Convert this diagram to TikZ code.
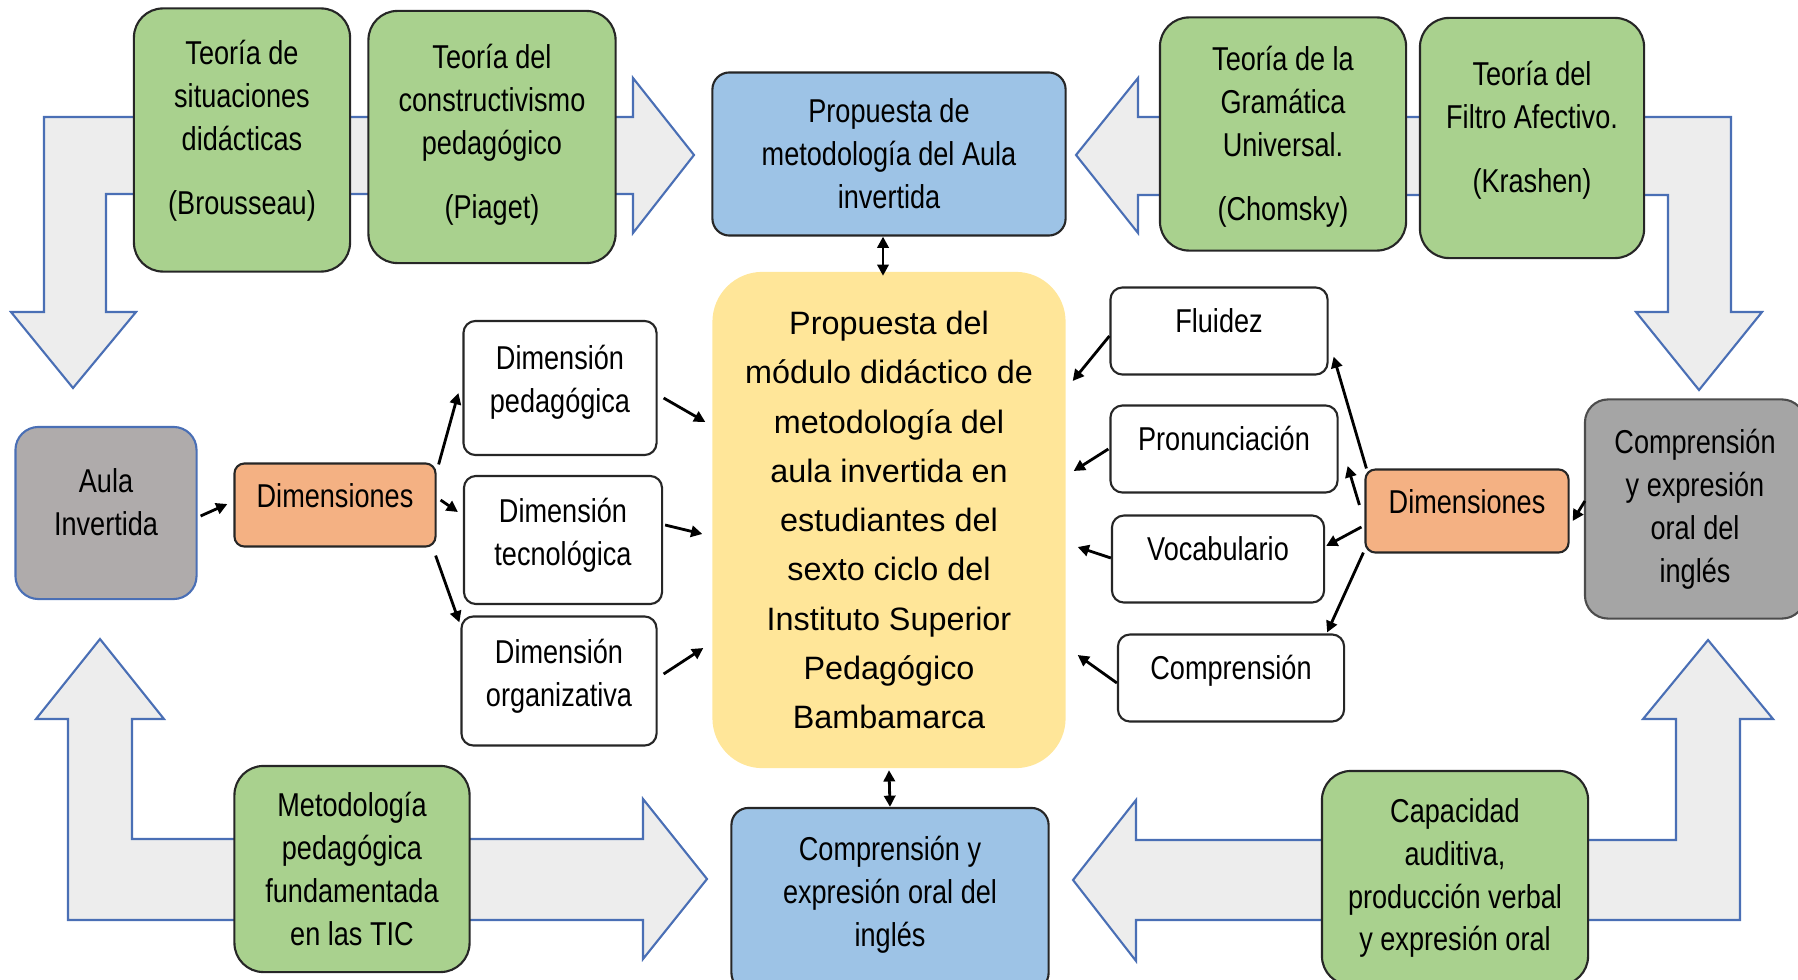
\documentclass[tikz,border=0pt]{standalone}
\usepackage{fontspec}
\setmainfont{Liberation Sans}
\newfontfamily\narrowfont[FakeStretch=0.82]{Liberation Sans}
\usetikzlibrary{calc,arrows.meta}
\definecolor{verde}{HTML}{A9D18E}
\definecolor{azul}{HTML}{9DC3E6}
\definecolor{amarillo}{HTML}{FFE699}
\definecolor{naranja}{HTML}{F4B183}
\definecolor{grisA}{HTML}{AFABAB}
\definecolor{grisB}{HTML}{A5A5A5}
\definecolor{relleno}{HTML}{EDEDED}
\definecolor{borde}{HTML}{4A6FB5}

\begin{document}
\begin{tikzpicture}[x=0.01cm, y=-0.01cm, >={Triangle[length=3.2pt,width=3.2pt]}, line join=round,
		font=\narrowfont\fontsize{9.4}{12.2}\selectfont,
		caja/.style={draw=black!85, line width=0.6pt, align=center, inner sep=0pt},
		teoria/.style={caja, fill=verde, rounded corners=0.29cm},
		propuesta/.style={caja, fill=azul, rounded corners=0.17cm},
		dimension/.style={caja, fill=white, rounded corners=0.12cm},
		rasgo/.style={dimension, minimum height=0.87cm, text height=0.25cm, text depth=0.23cm},
		dims/.style={caja, fill=naranja, rounded corners=0.1cm, minimum height=0.83cm, text height=0.25cm, text depth=0.2cm},
		flechota/.style={fill=relleno, draw=borde, line width=0.6pt, line join=miter},
		con/.style={->, line width=0.8pt}]
	\useasboundingbox (0,0) rectangle (1798,979);
	
	% flechas grandes
	\draw[flechota] (633,117) -- (633,78) -- (694,155) -- (633,233) -- (633,194) -- (106,194) -- (106,312) -- (136,312) -- (73,388) -- (11,312) -- (44,312) -- (44,117) -- cycle;
	\draw[flechota] (1138,117) -- (1731,117) -- (1731,312) -- (1762,312) -- (1699,390) -- (1636,312) -- (1668,312) -- (1668,195) -- (1138,195) -- (1138,233) -- (1076,155) -- (1138,78) -- cycle;
	\draw[flechota] (643,839) -- (643,799) -- (707,879) -- (643,959) -- (643,920) -- (68,920) -- (68,719) -- (36,719) -- (100,639) -- (164,719) -- (132,719) -- (132,839) -- cycle;
	\draw[flechota] (1136,840) -- (1676,840) -- (1676,719) -- (1643,719) -- (1708,640) -- (1773,719) -- (1740,719) -- (1740,920) -- (1136,920) -- (1136,961) -- (1073,880) -- (1136,800) -- cycle;
	
	% teorias
	\node[teoria, minimum width=2.16cm, minimum height=2.63cm, text depth=0.25cm] (brou) at (242,140) {Teoría de\\situaciones\\didácticas\\[6pt](Brousseau)};
	\node[teoria, minimum width=2.47cm, minimum height=2.52cm, text depth=0.12cm] (piag) at (492,137) {Teoría del\\constructivismo\\pedagógico\\[6pt](Piaget)};
	\node[teoria, minimum width=2.46cm, minimum height=2.33cm, text depth=0.01cm] (chom) at (1283,134) {Teoría de la\\Gramática\\Universal.\\[6pt](Chomsky)};
	\node[teoria, minimum width=2.24cm, minimum height=2.40cm, text depth=0.23cm] (kras) at (1532,138) {Teoría del\\Filtro Afectivo.\\[6pt](Krashen)};
	\node[teoria, minimum width=2.35cm, minimum height=2.06cm] (metod) at (352,869) {Metodología\\pedagógica\\fundamentada\\en las TIC};
	\node[teoria, minimum width=2.66cm, minimum height=2.14cm] (capac) at (1455,878) {Capacidad\\auditiva,\\producción verbal\\y expresión oral};
	
	% propuestas
	\node[propuesta, minimum width=3.53cm, minimum height=1.63cm] (propT) at (889,154) {Propuesta de\\metodología del Aula\\invertida};
	\node[propuesta, minimum width=3.17cm, minimum height=1.82cm, text depth=0.15cm] (comB) at (890,899) {Comprensión y\\expresión oral del\\inglés};
	\node[caja, draw=none, fill=amarillo, rounded corners=0.5cm, minimum width=3.53cm, minimum height=4.96cm,
		font=\rmfamily\fontsize{9.2}{14}\selectfont] (yel) at (889,520)
		{Propuesta del\\módulo didáctico de\\metodología del\\aula invertida en\\estudiantes del\\sexto ciclo del\\Instituto Superior\\Pedagógico\\Bambamarca};
	
	% variables
	\node[caja, draw=borde, fill=grisA, rounded corners=0.23cm, minimum width=1.81cm, minimum height=1.72cm, text depth=0.22cm] (aula) at (106,513) {Aula\\Invertida};
	\node[caja, draw=black!70, fill=grisB, rounded corners=0.23cm, minimum width=2.20cm, minimum height=2.19cm] (compR) at (1695,509) {Comprensión\\y expresión\\oral del\\inglés};
	\node[dims, minimum width=2.01cm] (dimL) at (335,505) {Dimensiones};
	\node[dims, minimum width=2.03cm] (dimR) at (1467,511) {Dimensiones};
	
	\node[dimension, minimum width=1.93cm, minimum height=1.34cm, text depth=0.19cm] (dped) at (560,388) {Dimensión\\pedagógica};
	\node[dimension, minimum width=1.98cm, minimum height=1.28cm, text depth=0.17cm] (dtec) at (563,540) {Dimensión\\tecnológica};
	\node[dimension, minimum width=1.95cm, minimum height=1.29cm, text depth=0.17cm] (dorg) at (559,681) {Dimensión\\organizativa};
	
	\node[rasgo, minimum width=2.17cm] (flu) at (1219,331) {Fluidez};
	\node[rasgo, minimum width=2.27cm] (pro) at (1224,449) {Pronunciación};
	\node[rasgo, minimum width=2.12cm] (voc) at (1218,559) {Vocabulario};
	\node[rasgo, minimum width=2.26cm] (cmp) at (1231,678) {Comprensión};
	
	% conectores
	\draw[con] ($(aula.east)+(3,3)$) -- ($(dimL.west)+(-6,-1)$);
	\draw[con] ($(dimL.north east)+(2,2)$) -- ($(dped.west)+(-4,5)$);
	\draw[con] ($(dimL.east)+(4,-5)$) -- ($(dtec.west)+(-5,-28)$);
	\draw[con] ($(dimL.south east)+(-1,8)$) -- ($(dorg.north west)+(-1,7)$);
	\draw[con] ($(dped.east)+(6,10)$) -- ($(yel.west)+(-6,-98)$);
	\draw[con] ($(dtec.east)+(2,-15)$) -- ($(yel.west)+(-9,14)$);
	\draw[con] ($(dorg.east)+(6,-7)$) -- ($(yel.west)+(-8,128)$);
	
	\draw[con, <->] ($(propT.south)+(-6,0)$) -- ($(yel.north)+(-6,5)$);
	\draw[con, <->] ($(yel.south)+(0,1)$) -- (comB.north);
	
	\draw[con] ($(flu.west)+(0,5)$) -- ($(yel.east)+(6,-139)$);
	\draw[con] ($(pro.west)+(-1,0)$) -- ($(yel.east)+(7,-49)$);
	\draw[con] ($(voc.west)+(0,-1)$) -- ($(yel.east)+(11,27)$);
	\draw[con] ($(cmp.west)+(0,5)$) -- ($(yel.east)+(11,135)$);
	
	\draw[con] ($(dimR.north west)+(2,0)$) -- ($(flu.south east)+(5,-19)$);
	\draw[con] ($(dimR.west)+(-5,-6)$) -- ($(pro.east)+(9,17)$);
	\draw[con] ($(dimR.west)+(-3,16)$) -- ($(voc.east)+(1,-13)$);
	\draw[con] ($(dimR.south west)+(-1,-1)$) -- ($(cmp.north east)+(-18,-1)$);
	\draw[con] ($(compR.west)+(1,-8)$) -- ($(dimR.east)+(3,10)$);
\end{tikzpicture}
\end{document}
